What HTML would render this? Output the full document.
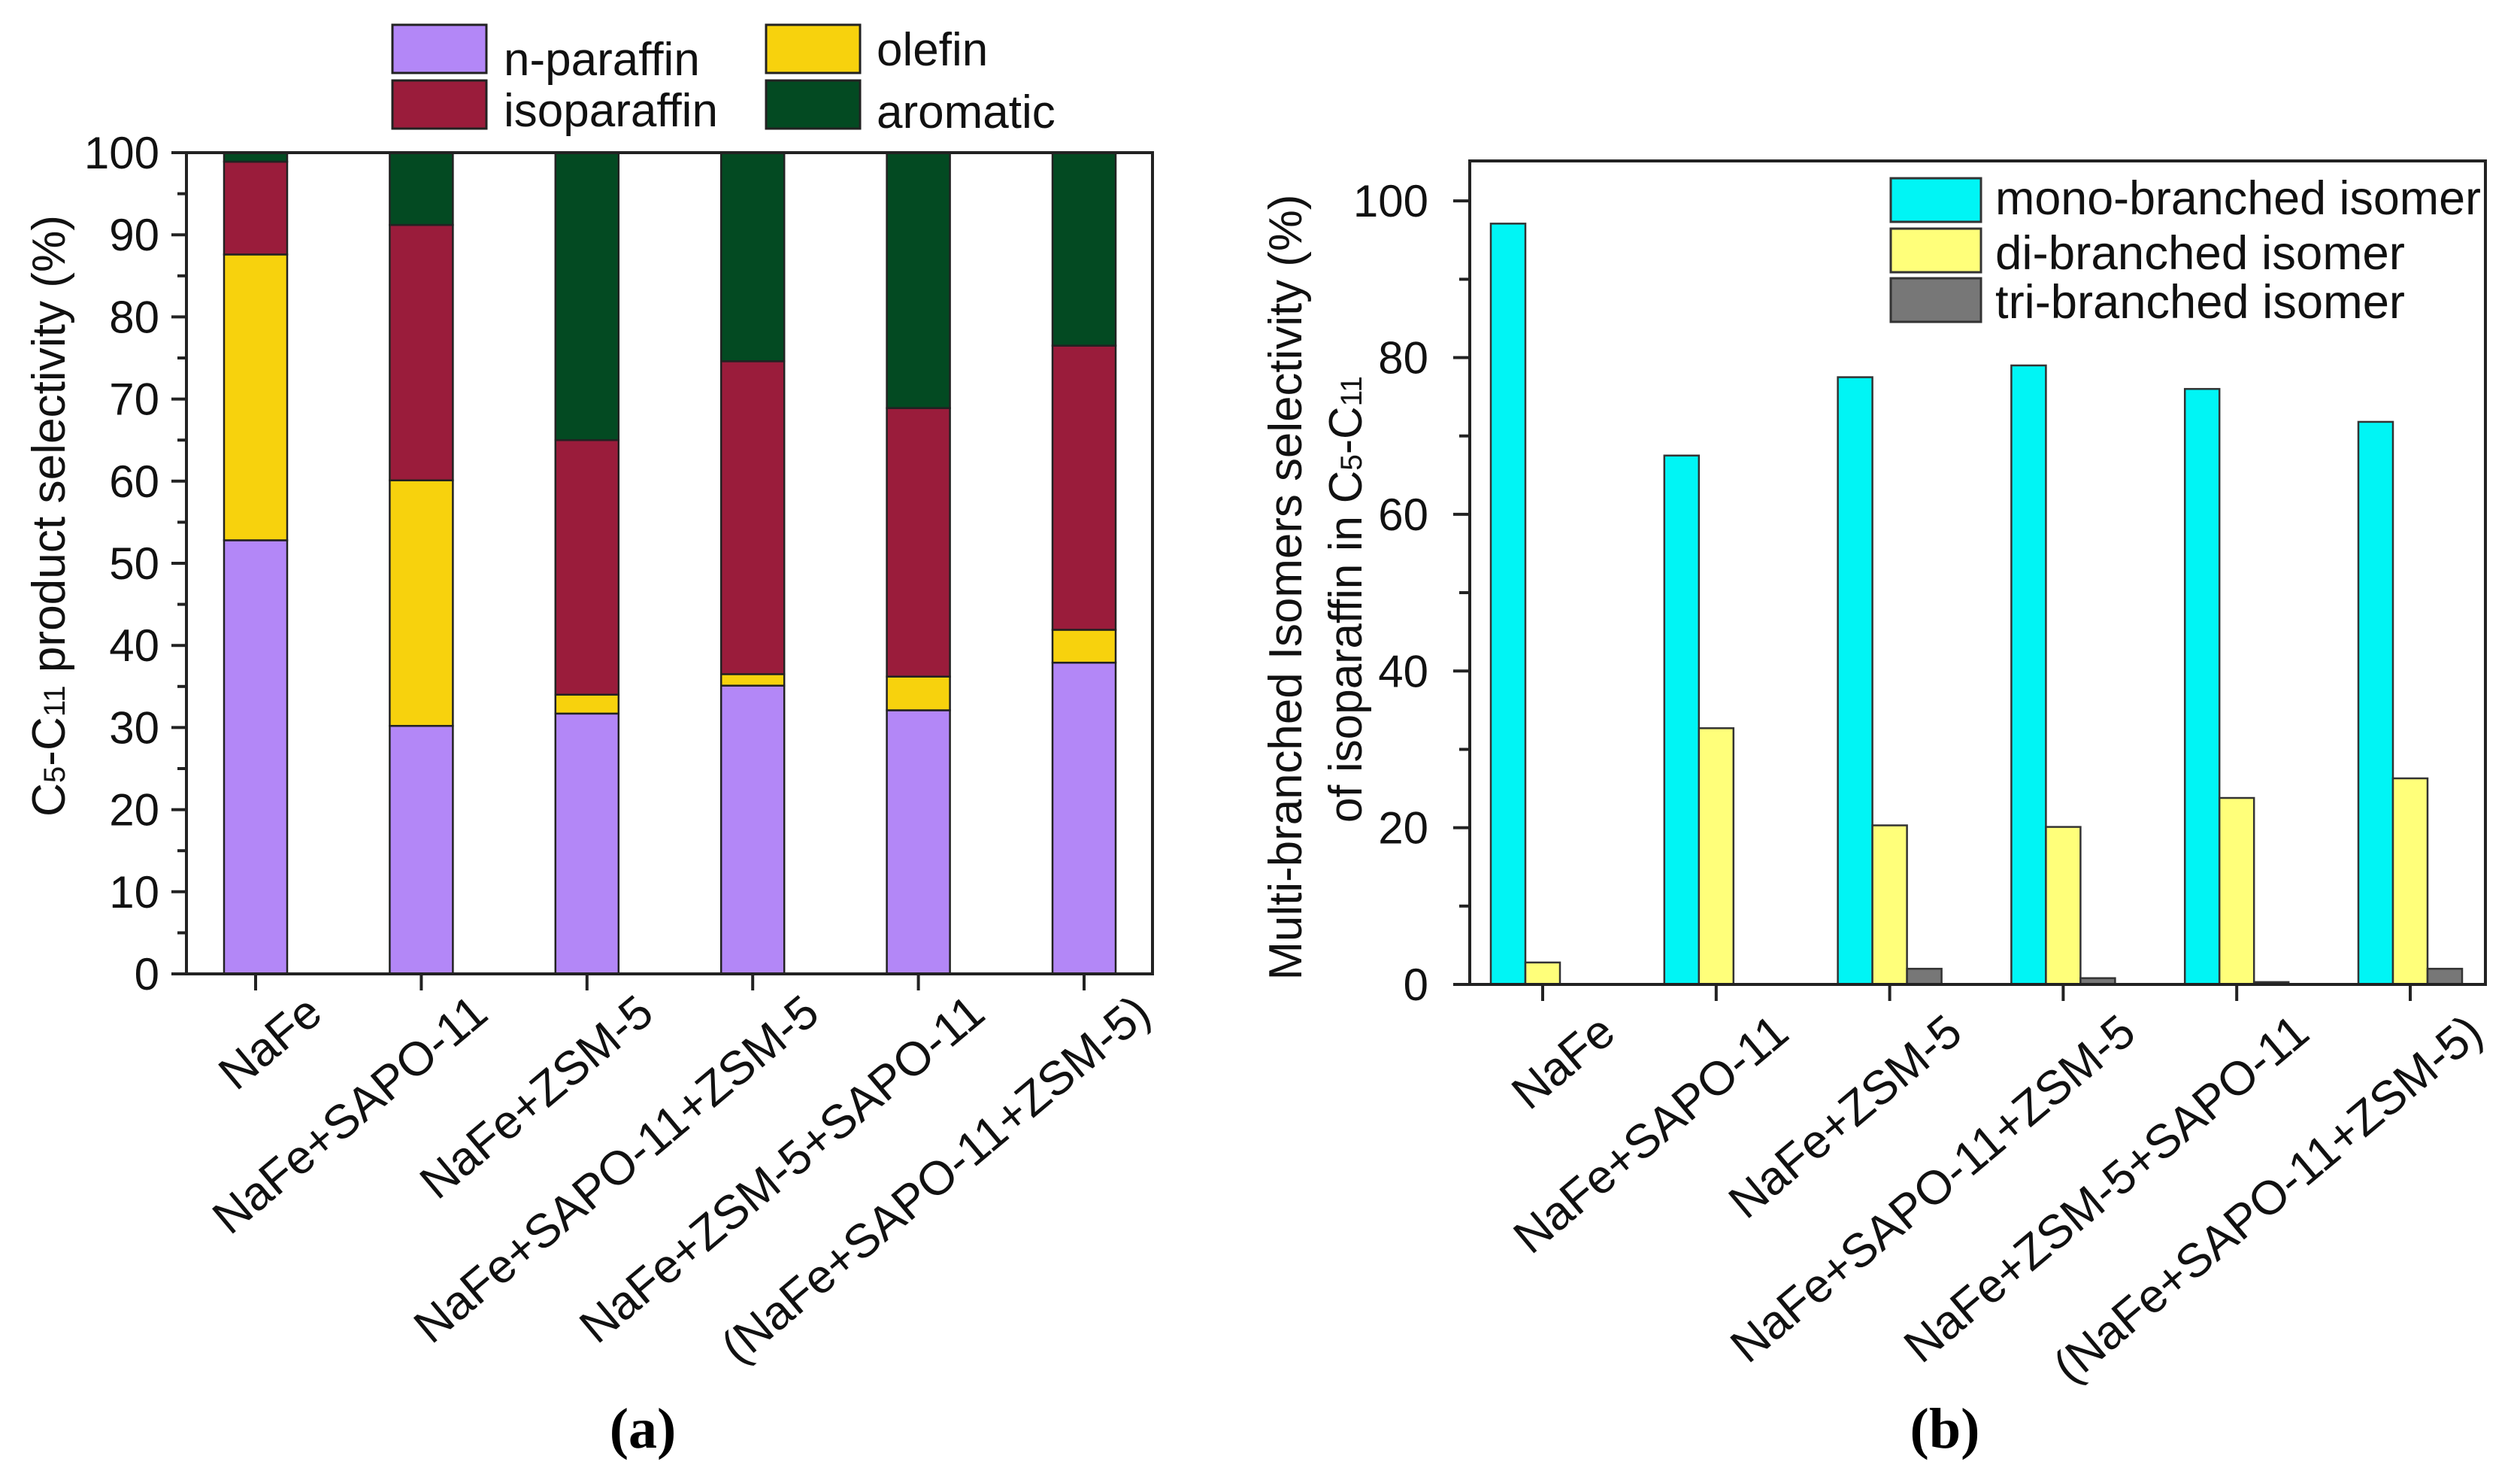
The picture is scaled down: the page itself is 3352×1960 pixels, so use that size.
<!DOCTYPE html>
<html><head><meta charset="utf-8"><style>
html,body{margin:0;padding:0;background:#fff;}
svg{display:block;font-family:"Liberation Sans",Arial,sans-serif;}
</style></head><body>
<svg id="fig" width="3352" height="1960" viewBox="0 0 3352 1960" xmlns="http://www.w3.org/2000/svg">
<g id="chartA"></g>
<g id="chartB"></g>
<text x="855" y="1925" font-family="Liberation Serif,serif" font-weight="bold" font-size="76" text-anchor="middle">(a)</text>
<text x="2587" y="1925" font-family="Liberation Serif,serif" font-weight="bold" font-size="76" text-anchor="middle">(b)</text>
</svg>
<script>
const categories = ["NaFe","NaFe+SAPO-11","NaFe+ZSM-5","NaFe+SAPO-11+ZSM-5","NaFe+ZSM-5+SAPO-11","(NaFe+SAPO-11+ZSM-5)"];
// chart (a) stacked values
const nParaffin = [52.8, 30.2, 31.7, 35.1, 32.1, 37.9];
const olefin = [34.8, 29.9, 2.3, 1.4, 4.1, 4.0];
const isoparaffin = [11.3, 31.1, 31.0, 38.1, 32.7, 34.6];
const aromatic = [1.1, 8.8, 35.0, 25.4, 31.1, 23.5];
const aTicks = [0,10,20,30,40,50,60,70,80,90,100];
// chart (b) grouped values
const mono = [97.1, 67.5, 77.5, 79.0, 76.0, 71.8];
const di = [2.8, 32.7, 20.3, 20.1, 23.8, 26.3];
const tri = [0, 0, 2.0, 0.8, 0.3, 2.0];
const bTicks = [0,20,40,60,80,100];

const NS="http://www.w3.org/2000/svg";
function mk(parent,tag,attrs,text){const e=document.createElementNS(NS,tag);for(const k in attrs)e.setAttribute(k,attrs[k]);if(text!==undefined)e.textContent=text;parent.appendChild(e);return e;}

// ---------- Chart A ----------
(function(){
const g=document.getElementById('chartA');
const L=248,R=1533,T=203,B=1295,ymin=0,ymax=100;
const y=v=>B-(v-ymin)/(ymax-ymin)*(B-T);
const x0=340,dx=220.4;
const x=i=>x0+i*dx;
const bw=84;
const series=[[nParaffin,"#b387f7","n-paraffin"],[olefin,"#f7d20d","olefin"],[isoparaffin,"#9a1c3b","isoparaffin"],[aromatic,"#034a22","aromatic"]];
categories.forEach((c,i)=>{
  let acc=0;
  series.forEach(([arr,col,nm])=>{
    const v=arr[i];
    const r=mk(g,'rect',{x:x(i)-bw/2,y:y(Math.min(acc+v,100)),width:bw,height:y(acc)-y(Math.min(acc+v,100)),fill:col,stroke:"#222",'stroke-width':2.5});
    
    
    acc+=v;
  });
  const t=mk(g,'line',{x1:x(i),x2:x(i),y1:B,y2:B+22,stroke:"#222",'stroke-width':4});
  
  
  const lb=mk(g,'text',{x:x(i)+92,y:B+58,'font-size':63,'text-anchor':'end',transform:`rotate(-40 ${x(i)+92} ${B+58})`,fill:"#111"},c);
  
  
});
const fr=mk(g,'rect',{x:L,y:T,width:R-L,height:B-T,fill:"none",stroke:"#222",'stroke-width':4});


for(let v=0;v<=100;v+=5){
  const major=v%10===0;
  const tk=mk(g,'line',{x1:L-(major?20:12),x2:L,y1:y(v),y2:y(v),stroke:"#222",'stroke-width':4});
  
  
}
aTicks.forEach(v=>{
  const tl=mk(g,'text',{x:212,y:y(v)+21,'font-size':60,'text-anchor':'end',fill:"#111"},String(v));
  
  
});
const tt=mk(g,'text',{x:0,y:0,'font-size':62,'text-anchor':'middle',transform:'translate(86 686) rotate(-90)',fill:"#111",textLength:800,lengthAdjust:'spacingAndGlyphs'});


tt.innerHTML='C<tspan font-size="40">5</tspan>-C<tspan font-size="40">11</tspan> product selectivity (%)';
// legend
const leg=[[522,33,"#b387f7","n-paraffin",670,100],[1019,33,"#f7d20d","olefin",1166,87],[522,107,"#9a1c3b","isoparaffin",670,168],[1019,107,"#034a22","aromatic",1166,170]];
leg.forEach(([bx,by,col,nm,tx,ty])=>{
  const r=mk(g,'rect',{x:bx,y:by,width:125,height:64,fill:col,stroke:"#222",'stroke-width':3});
  
  
  const t=mk(g,'text',{x:tx,y:ty,'font-size':62,fill:"#111"},nm);
  
  
});
})();

// ---------- Chart B ----------
(function(){
const g=document.getElementById('chartB');
const L=1955,R=3306,T=214,B=1309,ymin=0,ymax=105.1;
const y=v=>B-(v-ymin)/(ymax-ymin)*(B-T);
const x0=2052,dx=230.8;
const x=i=>x0+i*dx;
const bw=46;
const series=[[mono,"#00f5f5","mono",-1],[di,"#ffff7a","di",0],[tri,"#777777","tri",1]];
categories.forEach((c,i)=>{
  series.forEach(([arr,col,nm,off])=>{
    const v=arr[i];
    const r=mk(g,'rect',{x:x(i)+off*bw-bw/2,y:y(v),width:bw,height:B-y(v),fill:col,stroke:"#333",'stroke-width':2.5});
    
    
  });
  const t=mk(g,'line',{x1:x(i),x2:x(i),y1:B,y2:B+22,stroke:"#222",'stroke-width':4});
  
  
  const lb=mk(g,'text',{x:x(i)+100,y:B+70,'font-size':63,'text-anchor':'end',transform:`rotate(-40 ${x(i)+100} ${B+70})`,fill:"#111"},c);
  
  
});
const fr=mk(g,'rect',{x:L,y:T,width:R-L,height:B-T,fill:"none",stroke:"#222",'stroke-width':4});


for(let v=0;v<=100;v+=10){
  const major=v%20===0;
  const tk=mk(g,'line',{x1:L-(major?22:14),x2:L,y1:y(v),y2:y(v),stroke:"#222",'stroke-width':4});
  
  
}
bTicks.forEach(v=>{
  const tl=mk(g,'text',{x:1900,y:y(v)+21,'font-size':60,'text-anchor':'end',fill:"#111"},String(v));
  
  
});
const t1=mk(g,'text',{x:0,y:0,'font-size':62,'text-anchor':'middle',transform:'translate(1731 781) rotate(-90)',fill:"#111",textLength:1045,lengthAdjust:'spacingAndGlyphs'},'Multi-branched Isomers selectivity (%)');


const t2=mk(g,'text',{x:0,y:0,'font-size':62,'text-anchor':'middle',transform:'translate(1811 797) rotate(-90)',fill:"#111",textLength:594,lengthAdjust:'spacingAndGlyphs'});


t2.innerHTML='of isoparaffin in C<tspan font-size="40">5</tspan>-C<tspan font-size="40">11</tspan>';
const leg=[[237,"#00f5f5","mono-branched isomer",285,646],[304,"#ffff7a","di-branched isomer",358,545],[370,"#777777","tri-branched isomer",423,545]];
leg.forEach(([by,col,nm,ty,tl])=>{
  const r=mk(g,'rect',{x:2515,y:by,width:120,height:58,fill:col,stroke:"#333",'stroke-width':3});
  
  
  const t=mk(g,'text',{x:2654,y:ty,'font-size':63,fill:"#111",textLength:tl,lengthAdjust:'spacingAndGlyphs'},nm);
  
  
});
})();
</script>
</body></html>
